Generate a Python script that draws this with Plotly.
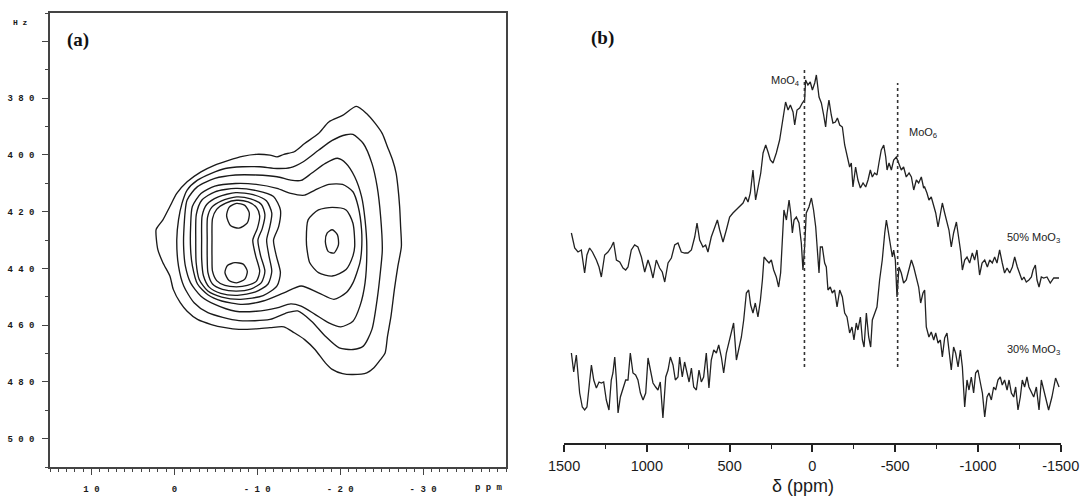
import plotly.graph_objects as go

# ---------------- Panel (b) data: 95Mo NMR spectra ----------------
delta_50 = [1456, 1436, 1416, 1396, 1376, 1362, 1346, 1329, 1305, 1289, 1275, 1255, 1235, 1215, 1201,
            1184, 1164, 1144, 1128, 1114, 1094, 1074, 1054, 1033, 1013, 993, 979, 963, 943, 923, 907,
            892, 872, 852, 832, 812, 792, 772, 752, 731, 711, 697, 681, 661, 645, 631, 611, 590, 574,
            560, 540, 520, 500, 480, 460, 439, 419, 403, 389, 375, 359, 343, 327, 312, 298, 282, 268,
            254, 238, 218, 198, 178, 162, 147, 133, 117, 107, 93, 77, 61, 47, 41, 27, 13, 0, -14, -24,
            -40, -54, -68, -80, -88, -100, -114, -124, -139, -151, -165, -181, -195, -209, -225, -235,
            -245, -261, -275, -290, -306, -322, -336, -350, -362, -376, -390, -402, -416, -431, -443,
            -451, -463, -477, -491, -507, -523, -537, -551, -567, -584, -598, -612, -628, -642, -658,
            -672, -678, -692, -704, -718, -733, -745, -759, -773, -785, -799, -813, -825, -839, -853,
            -870, -884, -896, -906, -920, -934, -950, -966, -980, -994, -1010, -1025, -1041, -1057,
            -1071, -1087, -1101, -1115, -1131, -1147, -1161, -1176, -1192, -1208, -1222, -1238, -1252,
            -1266, -1278, -1292, -1308, -1323, -1333, -1347, -1357, -1369, -1383, -1397, -1417, -1437,
            -1458, -1490]
int_50 = [210, 195, 191, 193, 170, 188, 195, 191, 183, 176, 166, 188, 191, 196, 201,
          183, 181, 175, 173, 176, 193, 198, 196, 186, 171, 183, 176, 165, 183, 175, 171,
          161, 180, 185, 198, 200, 191, 190, 190, 193, 206, 220, 203, 196, 198, 191, 206, 216, 223,
          213, 201, 213, 226, 230, 233, 236, 240, 246, 241, 250, 273, 243, 256, 270, 290, 298, 291,
          283, 280, 290, 303, 325, 341, 333, 338, 331, 318, 333, 335, 340, 343, 363, 358, 361, 353, 360, 368,
          346, 340, 328, 316, 330, 343, 328, 320, 321, 325, 318, 316, 298, 288, 276, 280,
          256, 276, 263, 255, 260, 256, 263, 273, 266, 270, 268, 280, 293, 298, 286,
          273, 280, 273, 283, 286, 280, 273, 276, 266, 270, 266, 253, 263, 260, 266,
          255, 256, 250, 243, 246, 236, 230, 216, 230, 240, 230, 220, 213, 196, 210,
          221, 206, 191, 173, 183, 186, 180, 190, 183, 193, 168, 180, 183, 176,
          183, 180, 186, 180, 193, 180, 170, 175, 170, 176, 186, 176, 170,
          163, 166, 161, 163, 166, 173, 178, 163, 156, 166, 165, 166, 160,
          165, 165]

delta_30 = [1456, 1442, 1426, 1416, 1406, 1390, 1376, 1362, 1350, 1335, 1321, 1305, 1289, 1275, 1261,
            1245, 1229, 1215, 1205, 1194, 1184, 1174, 1160, 1144, 1128, 1114, 1100, 1084, 1068, 1054,
            1039, 1023, 1007, 993, 979, 963, 947, 933, 919, 903, 886, 872, 858, 842, 828, 812, 802, 786,
            772, 762, 745, 731, 717, 701, 685, 671, 657, 641, 625, 611, 596, 580, 566, 550, 536, 520,
            504, 490, 476, 459, 443, 429, 415, 399, 385, 373, 359, 345, 329, 314, 302, 292, 278, 262,
            248, 234, 218, 204, 192, 182, 172, 157, 141, 131, 121, 111, 97, 81, 67, 57, 47, 37, 21, 6,
            -7, -20, -28, -40, -48, -60, -74, -84, -94, -108, -120, -134, -149, -165, -181, -195, -209,
            -225, -239, -251, -265, -275, -290, -302, -312, -326, -340, -352, -362, -376, -390, -406,
            -422, -437, -447, -457, -471, -483, -491, -501, -511, -523, -537, -551, -567, -584, -598,
            -612, -628, -642, -654, -668, -678, -688, -704, -718, -733, -745, -759, -773, -785, -799,
            -813, -825, -839, -853, -865, -880, -894, -906, -920, -934, -946, -960, -974, -986, -1000,
            -1015, -1027, -1041, -1055, -1067, -1081, -1095, -1107, -1121, -1135, -1147, -1161, -1176,
            -1188, -1202, -1216, -1228, -1242, -1256, -1268, -1282, -1296, -1308, -1323, -1337, -1353,
            -1369, -1383, -1397, -1410, -1427, -1447, -1469, -1490]
int_30 = [90, 71, 88, 66, 50, 36, 33, 36, 56, 78, 63, 55, 61, 60, 61,
          43, 33, 63, 70, 86, 63, 30, 46, 55, 63, 63, 90, 70, 68, 63,
          50, 43, 50, 85, 73, 60, 56, 53, 61, 25, 66, 73, 86, 78, 63, 66, 86, 66,
          81, 73, 61, 75, 56, 53, 73, 61, 66, 90, 55, 83, 93, 90, 98, 86, 70, 90,
          100, 111, 120, 83, 96, 106, 123, 150, 153, 138, 130, 140, 126, 143, 163, 186, 183, 180,
          183, 173, 166, 156, 170, 196, 233, 223, 243, 230, 210, 223, 226, 220, 200, 173, 196, 230, 236, 245,
          233, 216, 196, 170, 196, 196, 180, 176, 153, 156, 150, 153, 136, 153, 146, 130, 126,
          110, 116, 103, 120, 113, 126, 103, 96, 130, 106, 96, 123, 130, 136, 163,
          183, 210, 223, 213, 196, 186, 193, 183, 146, 176, 170, 160, 163, 173, 183,
          176, 166, 156, 140, 150, 153, 116, 106, 111, 103, 110, 100, 103, 86, 105,
          110, 90, 73, 96, 90, 76, 93, 76, 36, 63, 53, 66, 50, 70, 73,
          60, 50, 26, 46, 50, 43, 56, 53, 63, 66, 58, 63, 53,
          63, 50, 46, 56, 33, 46, 63, 56, 66, 56, 50, 46, 56,
          33, 63, 53, 46, 33, 46, 65, 56]

ref_lines = [48, -515]
ref_top = [375, 360]
ref_bottom = [76, 76]

# ---------------- Panel (a) data: contour lines (ppm, Hz) ----------------
c1_ppm = [2.21, 2.0, 1.38, 0.54, -0.29, -1.54, -3.21, -4.88, -6.54, -8.21, -9.88, -11.54, -12.38, -13.21,
          -14.46, -15.71, -17.38, -18.63, -20.29, -21.96, -23.21, -24.25, -25.08, -25.71, -26.33, -26.75,
          -26.96, -27.17, -27.29, -27.38, -26.96, -26.54, -26.13, -25.71, -25.42, -24.88, -24.04, -23.21,
          -21.54, -20.29, -19.04, -18.21, -16.96, -15.71, -14.46, -13.21, -11.54, -9.88, -7.79, -6.13,
          -4.46, -2.79, -1.54, -0.71, 0.13, 0.54, 1.38, 2.0]
c1_hz = [426.4, 425.3, 422.9, 418.2, 413.6, 409.5, 406.0, 403.6, 401.9, 400.5, 399.8, 400.1, 400.7, 399.8,
         398.9, 396.0, 392.5, 388.4, 386.1, 382.9, 385.5, 389.0, 392.5, 397.2, 401.9, 406.5,
         411.2, 418.2, 425.3, 432.3, 439.2, 447.4, 456.8, 463.9, 469.8, 472.1, 475.1, 476.8,
         477.4, 477.1, 475.6, 473.3, 468.6, 465.1, 462.7, 460.6, 460.9, 461.3, 461.5, 460.9,
         459.8, 458.0, 455.1, 452.1, 447.4, 442.7, 438.0, 433.3]

c2_ppm = [-0.29, -0.5, -0.92, -1.54, -2.79, -4.46, -6.13, -8.21, -10.29, -12.38, -14.0, -15.5, -17.38,
          -19.04, -20.71, -21.54, -22.79, -23.83, -24.46, -24.88, -25.08, -24.88, -24.46, -23.83, -22.79,
          -21.54, -19.88, -18.21, -16.54, -14.88, -13.63, -11.54, -7.79, -4.04, -2.38, -1.13, -0.5]
c2_hz = [429.9, 422.9, 417.1, 412.4, 408.9, 406.5, 404.8, 404.2, 404.2, 404.8, 404.5, 402.5, 398.4,
         394.9, 392.9, 392.8, 396.0, 403.0, 411.2, 421.8, 433.5, 440.4, 450.9, 461.5, 467.4,
         468.6, 468.0, 463.9, 458.6, 455.0, 455.6, 458.0, 458.4, 455.6, 452.1, 446.2, 439.2]

c3_ppm = [-1.13, -1.54, -2.79, -4.88, -7.38, -9.88, -12.38, -14.04, -15.29, -16.54, -18.21, -19.67, -20.71,
          -21.75, -22.58, -23.0, -23.21, -23.0, -22.38, -21.54, -20.08, -18.63, -16.96, -15.29, -14.04,
          -12.38, -9.88, -7.38, -4.88, -3.21, -1.96, -1.33, -1.13]
c3_hz = [427.6, 415.9, 411.2, 408.3, 407.1, 407.1, 407.7, 408.9, 409.0, 406.5, 403.0, 401.2, 403.0,
         407.7, 414.7, 422.9, 432.3, 445.1, 453.3, 458.6, 460.6, 459.2, 456.2, 453.3, 452.5,
         453.9, 455.1, 455.1, 452.7, 449.8, 445.1, 439.2, 433.3]

c4_ppm = [-1.96, -2.17, -3.21, -4.88, -7.38, -9.88, -12.38, -14.04, -15.71, -16.96, -18.63, -20.29, -21.54,
          -22.17, -22.58, -22.58, -22.38, -21.54, -20.71, -19.25, -17.38, -15.29, -13.21, -10.71, -8.21,
          -5.71, -4.04, -2.79, -2.17, -1.96]
c4_hz = [425.3, 418.2, 413.6, 411.0, 410.1, 410.4, 411.8, 413.6, 414.2, 412.4, 410.4, 410.4, 413.0,
         418.2, 426.4, 433.5, 438.0, 445.1, 448.6, 450.9, 448.6, 446.2, 448.6, 451.5, 452.7,
         451.5, 449.3, 445.5, 439.0, 433.3]

c5_ppm = [-2.58, -2.65, -3.3, -4.9, -7.4, -9.9, -11.96, -12.79, -12.58, -11.96, -12.3, -12.79, -12.38,
          -10.71, -8.0, -5.71, -4.04, -3.0, -2.63]
c5_hz = [430.0, 421.0, 416.0, 413.0, 411.8, 412.6, 414.7, 419.4, 425.3, 430.0, 435.6, 441.5, 446.2,
         449.6, 450.9, 450.1, 448.0, 443.9, 438.0]

c6_ppm = [-3.29, -3.35, -3.9, -5.3, -7.4, -9.5, -11.1, -11.75, -11.5, -11.13, -11.4, -11.75, -11.3,
          -9.8, -7.6, -5.6, -4.2, -3.5, -3.3]
c6_hz = [430.0, 421.5, 417.5, 414.8, 413.3, 414.0, 416.2, 420.5, 425.5, 430.0, 435.5, 441.0, 445.5,
         448.3, 449.5, 448.8, 446.6, 442.5, 437.0]

c7_ppm = [-3.96, -4.0, -4.5, -5.7, -7.5, -9.2, -10.5, -10.92, -10.6, -10.08, -10.4, -10.92, -10.5,
          -9.2, -7.5, -5.8, -4.6, -4.05, -3.96]
c7_hz = [430.0, 422.0, 418.5, 416.2, 414.8, 415.5, 417.5, 421.0, 426.0, 430.0, 435.5, 441.0, 445.0,
         447.3, 448.0, 447.4, 445.5, 441.5, 436.0]

c8_ppm = [-4.54, -4.6, -5.1, -6.2, -7.5, -8.9, -9.9, -10.29, -10.0, -9.46, -9.8, -10.29, -9.9,
          -8.8, -7.5, -6.1, -5.1, -4.6, -4.54]
c8_hz = [430.0, 422.5, 419.2, 417.0, 416.0, 416.6, 418.5, 421.5, 426.0, 430.0, 435.5, 441.0, 444.5,
         446.0, 446.5, 446.0, 444.3, 441.0, 436.0]

c9a_ppm = [-6.3, -6.6, -7.5, -8.5, -9.04, -8.8, -7.8, -6.8]
c9a_hz = [421.5, 418.5, 417.1, 417.8, 420.5, 424.0, 425.8, 425.0]
c9b_ppm = [-6.1, -6.4, -7.3, -8.3, -8.8, -8.5, -7.5, -6.6]
c9b_hz = [441.5, 439.0, 438.0, 438.5, 441.0, 443.8, 445.1, 444.3]

r5_ppm = [-19.04, -20.71, -21.54, -21.75, -21.54, -20.71, -19.04, -17.38, -16.33, -16.0, -15.92, -16.13, -17.38]
r5_hz = [418.5, 419.4, 424.1, 432.3, 435.6, 440.4, 442.7, 441.5, 438.0, 433.3, 429.9, 422.9, 419.4]
r6_ppm = [-18.42, -19.04, -19.67, -19.79, -19.25, -18.54, -18.21]
r6_hz = [427.6, 426.4, 428.2, 431.7, 434.6, 434.0, 430.5]

contours = [(c1_ppm, c1_hz), (c2_ppm, c2_hz), (c3_ppm, c3_hz), (c4_ppm, c4_hz), (c5_ppm, c5_hz),
            (c6_ppm, c6_hz), (c7_ppm, c7_hz), (c8_ppm, c8_hz), (c9a_ppm, c9a_hz), (c9b_ppm, c9b_hz),
            (r5_ppm, r5_hz), (r6_ppm, r6_hz)]

a_xticks = [10, 0, -10, -20, -30]
a_xticktext = ["1 0", "0", "- 1 0", "- 2 0", "- 3 0"]
a_yticks = [360, 380, 400, 420, 440, 460, 480, 500]
a_yticktext = [" ", "3 8 0", "4 0 0", "4 2 0", "4 4 0", "4 6 0", "4 8 0", "5 0 0"]

b_xticks = [1500, 1000, 500, 0, -500, -1000, -1500]
b_xticktext = ["1500", "1000", "500", "0", "-500", "-1000", "-1500"]

W, H = 1081, 503
def px(x):
    return x / W
def py(y):
    return 1 - y / H

fig = go.Figure()

for xs, ys in contours:
    fig.add_trace(go.Scatter(x=list(xs) + [xs[0]], y=list(ys) + [ys[0]], mode="lines",
                             line=dict(color="#1a1a1a", width=1.35, shape="spline", smoothing=0.7),
                             xaxis="x", yaxis="y", showlegend=False, hoverinfo="skip"))

for d, v in ((delta_50, int_50), (delta_30, int_30)):
    fig.add_trace(go.Scatter(x=d, y=v, mode="lines", line=dict(color="#222", width=1.3),
                             xaxis="x2", yaxis="y2", showlegend=False))

for xr, top, bot in zip(ref_lines, ref_top, ref_bottom):
    fig.add_trace(go.Scatter(x=[xr, xr], y=[bot, top], mode="lines",
                             line=dict(color="#333", width=1.6, dash="dot"),
                             xaxis="x2", yaxis="y2", showlegend=False))

mono = dict(family="Liberation Mono", size=9, color="#1a1a1a", weight="bold")
fig.update_layout(
    width=W, height=H, margin=dict(l=0, r=0, t=0, b=0, autoexpand=False),
    paper_bgcolor="white", plot_bgcolor="white",
    xaxis=dict(domain=[px(50), px(506)], range=[15, -40], showgrid=False, zeroline=False,
               automargin=False,
               showline=True, linecolor="#444", linewidth=1.5, mirror=True,
               tickmode="array", tickvals=a_xticks, ticktext=a_xticktext,
               ticks="outside", ticklen=6, tickwidth=1.3, tickcolor="#444", tickfont=mono,
               minor=dict(dtick=1, ticks="outside", ticklen=3, tickcolor="#444", tickwidth=1),
               ticklabelstandoff=6),
    yaxis=dict(domain=[py(467), py(13)], range=[510, 350], showgrid=False, zeroline=False,
               automargin=False,
               showline=True, linecolor="#444", linewidth=1.5, mirror=True,
               tickmode="array", tickvals=a_yticks, ticktext=a_yticktext,
               ticks="outside", ticklen=6, tickwidth=1.3, tickcolor="#444", tickfont=mono,
               minor=dict(dtick=10, tick0=350, ticks="outside", ticklen=3, tickcolor="#444", tickwidth=1),
               ticklabelstandoff=6),
    xaxis2=dict(domain=[px(564.1), px(1060.7)], range=[1500, -1500], anchor="y2", showgrid=False,
                automargin=False,
                zeroline=False, showline=True, linecolor="#222", linewidth=1.6,
                tickmode="array", tickvals=b_xticks, ticktext=b_xticktext,
                ticks="outside", ticklen=7, tickwidth=1.5,
                tickcolor="#222", tickfont=dict(family="Liberation Sans", size=14.5, color="#1a1a1a"),
                minor=dict(dtick=250, tick0=0, ticks="outside", ticklen=4, tickcolor="#222", tickwidth=1.2),
                ticklabelstandoff=2),
    yaxis2=dict(domain=[py(443), py(5)], range=[0, 438], visible=False, anchor="x2", automargin=False),
)

ann = [
    dict(x=px(78), y=py(40), text="<b>(a)</b>", font=dict(family="Liberation Serif", size=19, color="#111")),
    dict(x=px(602), y=py(38), text="<b>(b)</b>", font=dict(family="Liberation Serif", size=19, color="#111")),
    dict(x=px(20), y=py(22), text="<b>H z</b>", font=dict(family="Liberation Mono", size=8, color="#1a1a1a")),
    dict(x=px(489), y=py(488), text="<b>p p m</b>", font=dict(family="Liberation Mono", size=9, color="#1a1a1a")),
    dict(x=px(803), y=py(486), text="δ (ppm)", font=dict(family="Liberation Sans", size=18, color="#1a1a1a")),
    dict(x=px(785), y=py(81), text="MoO<sub>4</sub>", font=dict(family="Liberation Sans", size=11, color="#222")),
    dict(x=px(923), y=py(133), text="MoO<sub>6</sub>", font=dict(family="Liberation Sans", size=11, color="#222")),
    dict(x=px(1033), y=py(238), text="50% MoO<sub>3</sub>", font=dict(family="Liberation Sans", size=11, color="#222")),
    dict(x=px(1033), y=py(350), text="30% MoO<sub>3</sub>", font=dict(family="Liberation Sans", size=11, color="#222")),
]
for a in ann:
    a.update(xref="paper", yref="paper", showarrow=False, xanchor="center", yanchor="middle")
fig.update_layout(annotations=ann)

fig.write_html("out.html")
